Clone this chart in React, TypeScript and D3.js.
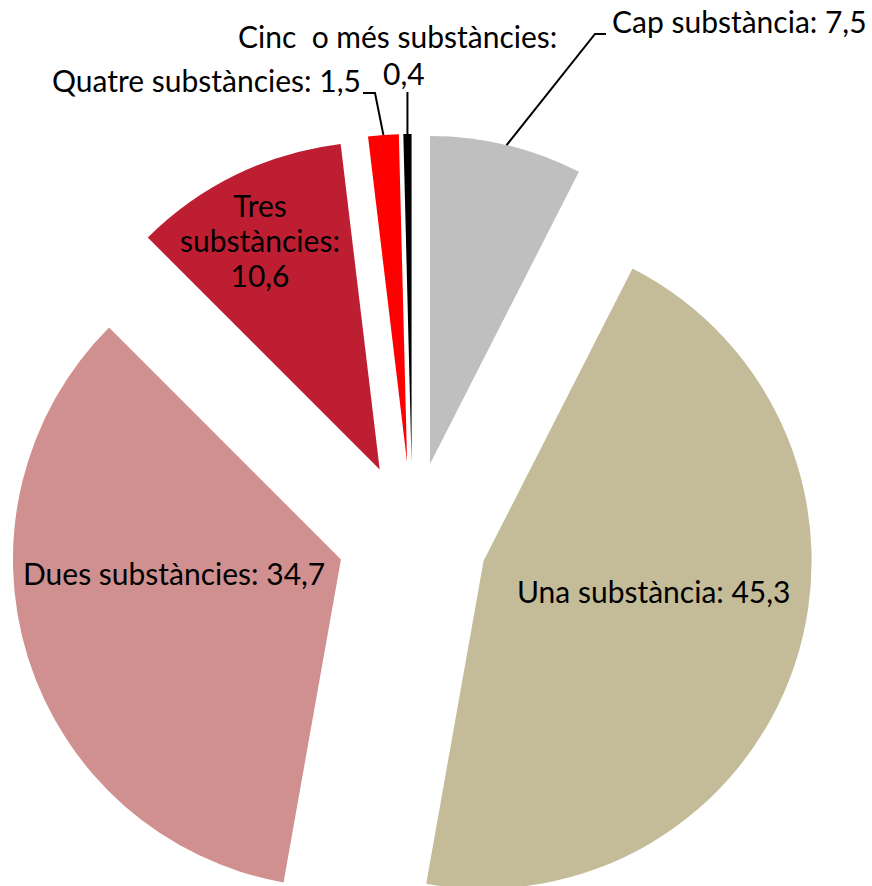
import React from "react";
import * as d3 from "d3";

const categories = [
  "Cap substància",
  "Una substància",
  "Dues substàncies",
  "Tres substàncies",
  "Quatre substàncies",
  "Cinc o més substàncies",
];
const values = [7.5, 45.3, 34.7, 10.6, 1.5, 0.4];
const colors = ["#BFBFBF", "#C4BC98", "#D09090", "#BE1E32", "#FF0000", "#000000"];
const valueLabels = ["7,5", "45,3", "34,7", "10,6", "1,5", "0,4"];

const W = 872;
const H = 886;
const CX = 412.5;
const CY = 537;
const R = 328;
const EXPLODE = 75;
const FONT = "Lato, 'Open Sans', sans-serif";
const FS = 30;

export default function App() {
  const data = categories.map((c, i) => ({ name: c, value: values[i], color: colors[i], label: valueLabels[i] }));
  const pie = d3.pie<any>().sort(null).value((d: any) => d.value).startAngle(0).endAngle(2 * Math.PI);
  const arcs = pie(data);
  const arcGen = d3.arc<any>().innerRadius(0).outerRadius(R);

  const offset = (a: any) => {
    const mid = (a.startAngle + a.endAngle) / 2;
    return [EXPLODE * Math.sin(mid), -EXPLODE * Math.cos(mid)];
  };
  const outerMid = (a: any) => {
    const mid = (a.startAngle + a.endAngle) / 2;
    const [ox, oy] = offset(a);
    return [CX + ox + R * Math.sin(mid), CY + oy - R * Math.cos(mid)];
  };

  const capEnd = outerMid(arcs[0]);
  const quatreEnd = outerMid(arcs[4]);
  const cincEnd = outerMid(arcs[5]);

  const textStyle: any = { fontFamily: FONT, fontSize: FS, fill: "#000", whiteSpace: "pre" };

  return (
    <svg width={W} height={H} style={{ position: "absolute", left: 0, top: 0 }}>
      <rect width={W} height={H} fill="#fff" />
      {arcs.map((a, i) => {
        const [ox, oy] = offset(a);
        return (
          <path
            key={i}
            d={arcGen(a) as string}
            fill={a.data.color}
            transform={`translate(${CX + ox},${CY + oy})`}
          />
        );
      })}
      {/* leader lines */}
      <polyline
        points={`606,34 595,34 ${capEnd[0]},${capEnd[1]}`}
        fill="none"
        stroke="#000"
        strokeWidth={2}
      />
      <polyline
        points={`363,93 375,93 ${quatreEnd[0]},${quatreEnd[1]}`}
        fill="none"
        stroke="#000"
        strokeWidth={2}
      />
      <polyline
        points={`${cincEnd[0]},92 ${cincEnd[0]},${cincEnd[1]}`}
        fill="none"
        stroke="#000"
        strokeWidth={2}
      />
      {/* labels */}
      <text x={612} y={33} style={textStyle}>{`${categories[0]}: ${valueLabels[0]}`}</text>
      <text x={517} y={603} style={textStyle}>{`${categories[1]}: ${valueLabels[1]}`}</text>
      <text x={23} y={585} style={textStyle}>{`${categories[2]}: ${valueLabels[2]}`}</text>
      <text x={260} y={217} textAnchor="middle" style={textStyle}>Tres</text>
      <text x={260} y={252} textAnchor="middle" style={textStyle}>substàncies:</text>
      <text x={260} y={287} textAnchor="middle" style={textStyle}>{valueLabels[3]}</text>
      <text x={52} y={92} style={textStyle}>{`${categories[4]}: ${valueLabels[4]}`}</text>
      <text x={238} y={48} style={textStyle}>{"Cinc  o més substàncies:"}</text>
      <text x={383} y={85} style={textStyle}>{valueLabels[5]}</text>
    </svg>
  );
}
